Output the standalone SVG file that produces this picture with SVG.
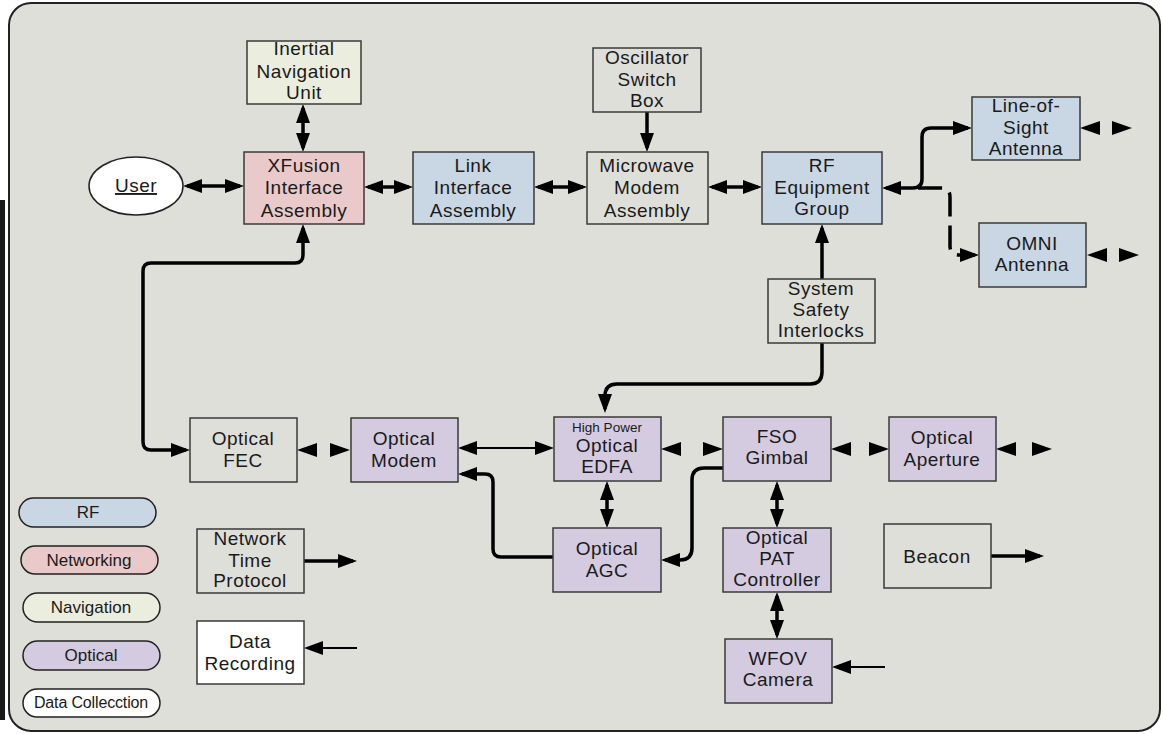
<svg xmlns="http://www.w3.org/2000/svg" width="1163" height="734" viewBox="0 0 1163 734">
<style>
.frame{fill:#dfdfda;stroke:#222;stroke-width:2}
.box{stroke:#3a3a3a;stroke-width:1.5}
.bg{fill:#dfdfda}.rf{fill:#c9d6e4}.net{fill:#e9c9c9}.nav{fill:#ebeedf}.opt{fill:#d4cbe0}.wht{fill:#fff}
.pill{stroke:#222;stroke-width:1.5}
text{font-family:"Liberation Sans",Arial,sans-serif;font-size:19px;letter-spacing:0.5px;fill:#1a1a1a;text-anchor:middle}
.lg{font-size:17px;letter-spacing:0}
.lg2{font-size:16px;letter-spacing:-0.15px}
.sm{font-size:13.5px;letter-spacing:0}
.c{fill:none;stroke:#000;stroke-width:3.5;stroke-linejoin:round}
.t{fill:none;stroke:#000;stroke-width:2}
.d{stroke-dasharray:24 9}
.s{marker-start:url(#ah)}
.e{marker-end:url(#ah)}
.hd{fill:#000}
</style>
<defs>
<marker id="ah" markerUnits="userSpaceOnUse" markerWidth="20" markerHeight="16" refX="15" refY="7" orient="auto-start-reverse" overflow="visible">
<path d="M0,0 L19,7 L0,14 z" fill="#000"/>
</marker>
<path id="hl" d="M0,0 L20,-7 L20,7 z"/>
<path id="hr" d="M0,0 L-20,-7 L-20,7 z"/>
</defs>
<rect x="0" y="200" width="5" height="520" fill="#1a1a1a"/>
<rect class="frame" x="9" y="3" width="1151" height="728" rx="22" ry="22"/>

<g id="connectors">
<path class="c s e" d="M187,186 H240"/>
<path class="c s e" d="M303,108 V148"/>
<path class="c s e" d="M368,187 H409"/>
<path class="c s e" d="M538,187 H583"/>
<path class="c e" d="M647,112 V148"/>
<path class="c s e" d="M712,187 H758"/>
<path class="c s e" d="M886,188 H913 Q922,188 922,179 V137 Q922,128 931,128 H968"/>
<path class="c d e" d="M918,188 H941 Q950,188 950,197 V246 Q950,255 959,255 H975"/>
<path class="c e" d="M822,279 V228"/>
<path class="c e" d="M822,343 V372 Q822,384 810,384 H617 Q605,384 605,396 V409"/>
<path class="c s e" d="M303,228 V255 Q303,263 295,263 H151 Q143,263 143,271 V442 Q143,450 151,450 H186"/>
<path class="t s e" d="M462,448 H550"/>
<path class="c e" d="M553,557 H501 Q493,557 493,549 V482 Q493,474 485,474 H462"/>
<path class="c s e" d="M607,485 V524"/>
<path class="c e" d="M723,468 H704 Q692,468 692,480 V548 Q692,560 680,560 H665"/>
<path class="c s e" d="M777,485 V524"/>
<path class="c s e" d="M777,596 V635"/>
<path class="t e" d="M885,667 H836"/>
<path class="c e" d="M991,556 H1040"/>
<path class="c e" d="M304,561 H353"/>
<path class="t e" d="M357,648 H308"/>
<g class="hd">
<use href="#hl" x="297" y="450"/><use href="#hr" x="350" y="450"/>
<use href="#hl" x="661" y="449"/><use href="#hr" x="723" y="449"/>
<use href="#hl" x="831" y="449"/><use href="#hr" x="889" y="449"/>
<use href="#hl" x="996" y="449"/><use href="#hr" x="1052" y="449"/>
<use href="#hl" x="1080" y="128"/><use href="#hr" x="1132" y="128"/>
<use href="#hl" x="1087" y="255"/><use href="#hr" x="1139" y="255"/>
</g>
</g>

<g id="user"><ellipse class="wht" cx="136" cy="186" rx="47" ry="29" stroke="#222" stroke-width="1.5"/><text x="136" y="192" text-decoration="underline">User</text></g>
<g id="inu"><rect class="box nav" x="247" y="41" width="114" height="63"/><text x="304" y="55">Inertial</text><text x="304" y="78">Navigation</text><text x="304" y="99">Unit</text></g>
<g id="xfusion"><rect class="box net" x="244" y="152" width="120" height="72"/><text x="304" y="172">XFusion</text><text x="304" y="194">Interface</text><text x="304" y="217">Assembly</text></g>
<g id="link"><rect class="box rf" x="413" y="152" width="121" height="72"/><text x="473" y="172">Link</text><text x="473" y="194">Interface</text><text x="473" y="217">Assembly</text></g>
<g id="osc"><rect class="box bg" x="593" y="48" width="108" height="64"/><text x="647" y="64">Oscillator</text><text x="647" y="86">Switch</text><text x="647" y="107">Box</text></g>
<g id="microwave"><rect class="box bg" x="587" y="152" width="121" height="72"/><text x="647" y="172">Microwave</text><text x="647" y="194">Modem</text><text x="647" y="217">Assembly</text></g>
<g id="rfeq"><rect class="box rf" x="762" y="152" width="120" height="72"/><text x="822" y="172">RF</text><text x="822" y="194">Equipment</text><text x="822" y="215">Group</text></g>
<g id="los"><rect class="box rf" x="972" y="97" width="108" height="63"/><text x="1026" y="112">Line-of-</text><text x="1026" y="134">Sight</text><text x="1026" y="155">Antenna</text></g>
<g id="omni"><rect class="box rf" x="979" y="223" width="107" height="64"/><text x="1032" y="250">OMNI</text><text x="1032" y="271">Antenna</text></g>
<g id="ssi"><rect class="box bg" x="768" y="279" width="107" height="64"/><text x="821" y="295">System</text><text x="821" y="316">Safety</text><text x="821" y="337">Interlocks</text></g>
<g id="fec"><rect class="box bg" x="190" y="418" width="107" height="64"/><text x="243" y="445">Optical</text><text x="243" y="467">FEC</text></g>
<g id="modem"><rect class="box opt" x="351" y="418" width="107" height="64"/><text x="404" y="445">Optical</text><text x="404" y="467">Modem</text></g>
<g id="edfa"><rect class="box opt" x="554" y="417" width="107" height="64"/><text class="sm" x="607" y="432">High Power</text><text x="607" y="452">Optical</text><text x="607" y="473">EDFA</text></g>
<g id="fso"><rect class="box opt" x="723" y="417" width="108" height="64"/><text x="777" y="443">FSO</text><text x="777" y="464">Gimbal</text></g>
<g id="aperture"><rect class="box opt" x="889" y="417" width="107" height="64"/><text x="942" y="444">Optical</text><text x="942" y="466">Aperture</text></g>
<g id="agc"><rect class="box opt" x="553" y="528" width="108" height="64"/><text x="607" y="555">Optical</text><text x="607" y="577">AGC</text></g>
<g id="pat"><rect class="box opt" x="723" y="528" width="108" height="64"/><text x="777" y="544">Optical</text><text x="777" y="565">PAT</text><text x="777" y="586">Controller</text></g>
<g id="wfov"><rect class="box opt" x="725" y="639" width="107" height="64"/><text x="778" y="665">WFOV</text><text x="778" y="686">Camera</text></g>
<g id="beacon"><rect class="box bg" x="884" y="524" width="107" height="64"/><text x="937" y="563">Beacon</text></g>
<g id="ntp"><rect class="box bg" x="197" y="529" width="107" height="64"/><text x="250" y="545">Network</text><text x="250" y="567">Time</text><text x="250" y="587">Protocol</text></g>
<g id="datarec"><rect class="box wht" x="197" y="621" width="107" height="63"/><text x="250" y="648">Data</text><text x="250" y="670">Recording</text></g>

<g id="legend-rf"><rect class="pill rf" x="19" y="498" width="137" height="29" rx="14.5"/><text class="lg" x="88" y="518">RF</text></g>
<g id="legend-net"><rect class="pill net" x="21" y="546" width="137" height="28" rx="14"/><text class="lg" x="89" y="566">Networking</text></g>
<g id="legend-nav"><rect class="pill nav" x="23" y="593" width="137" height="29" rx="14.5"/><text class="lg" x="91" y="613">Navigation</text></g>
<g id="legend-opt"><rect class="pill opt" x="23" y="641" width="137" height="29" rx="14.5"/><text class="lg" x="91" y="661">Optical</text></g>
<g id="legend-data"><rect class="pill wht" x="23" y="689" width="137" height="28" rx="14"/><text class="lg2" x="91" y="708">Data Collecction</text></g>
</svg>
